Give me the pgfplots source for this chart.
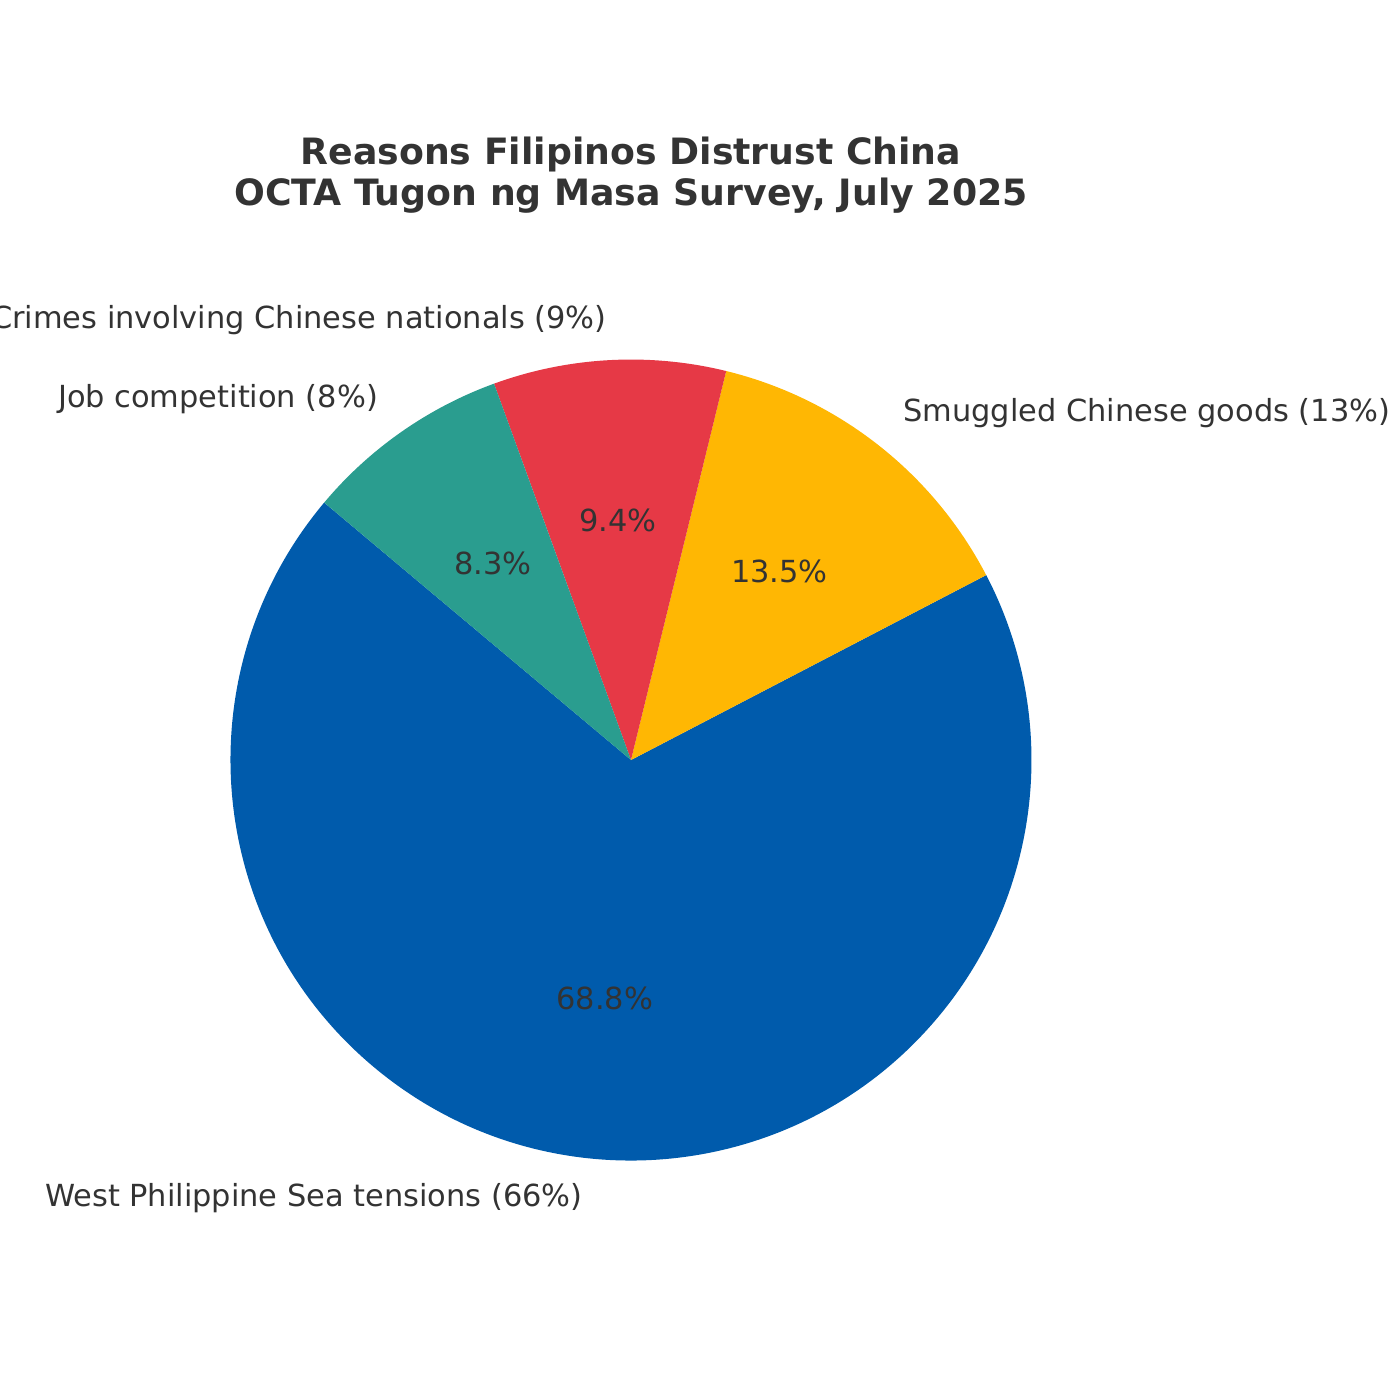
\documentclass[border=0pt]{standalone}
\usepackage{pgfplots}
\pgfplotsset{compat=1.18}
\usepackage{fontspec}
\setmainfont{DejaVu Sans}
\definecolor{cBlue}{HTML}{005BAC}
\definecolor{cYellow}{HTML}{FFB703}
\definecolor{cRed}{HTML}{E63946}
\definecolor{cGreen}{HTML}{2A9D8F}
\definecolor{txt}{HTML}{333333}
\def\R{192.24bp}% pie radius (400.5 px at 0.48bp per px)
\begin{document}
\begin{tikzpicture}[lab/.style={font=\fontsize{14.6bp}{17.5bp}\selectfont,text=txt,inner sep=0pt}]
\useasboundingbox (0,0) rectangle (672bp,672bp);
\begin{axis}[x=0.48bp,y=0.48bp,xmin=0,xmax=1400,ymin=0,ymax=1400,
  hide axis,clip=false,at={(0,0)},anchor=south west]
\addplot[draw=none] coordinates {(0,0) (1400,1400)};
% values: 66, 13, 9, 8 (total 96), start angle 140, counterclockwise
\xdef\ang{140}
\foreach \v/\c/\lab/\pct in {
  66/cBlue/West Philippine Sea tensions (66\%)/68.8\%,
  13/cYellow/Smuggled Chinese goods (13\%)/13.5\%,
  9/cRed/Crimes involving Chinese nationals (9\%)/9.4\%,
  8/cGreen/Job competition (8\%)/8.3\%}{
  \pgfmathsetmacro\a{\ang}
  \pgfmathsetmacro\b{\ang+\v/96*360}
  \pgfmathsetmacro\m{(\a+\b)/2}
  \pgfmathsetmacro\sx{631+400.5*cos(\a)}
  \pgfmathsetmacro\sy{640+400.5*sin(\a)}
  \pgfmathsetmacro\lx{631+440.55*cos(\m)}
  \pgfmathsetmacro\ly{640+440.55*sin(\m)}
  \pgfmathsetmacro\px{631+240.3*cos(\m)}
  \pgfmathsetmacro\py{640+240.3*sin(\m)}
  \pgfmathparse{cos(\m)<0?1:0}
  \ifdim\pgfmathresult pt>0.5pt \def\anc{east}\else\def\anc{west}\fi
  \edef\cmd{\noexpand\fill[\c] (axis cs:631,640) -- (axis cs:\sx,\sy) arc[start angle=\a,end angle=\b,radius=\R] -- cycle;
    \noexpand\node[lab,anchor=\anc] at (axis cs:\lx,\ly) {\lab};
    \noexpand\node[lab] at (axis cs:\px,\py) {\pct};}
  \cmd
  \xdef\ang{\b}
}
\node[font=\fontsize{17.4bp}{19.4bp}\selectfont\bfseries,text=txt,align=center,inner sep=0pt]
  at (axis cs:631,1225) {Reasons Filipinos Distrust China\\OCTA Tugon ng Masa Survey, July 2025};
\end{axis}
\end{tikzpicture}
\end{document}
